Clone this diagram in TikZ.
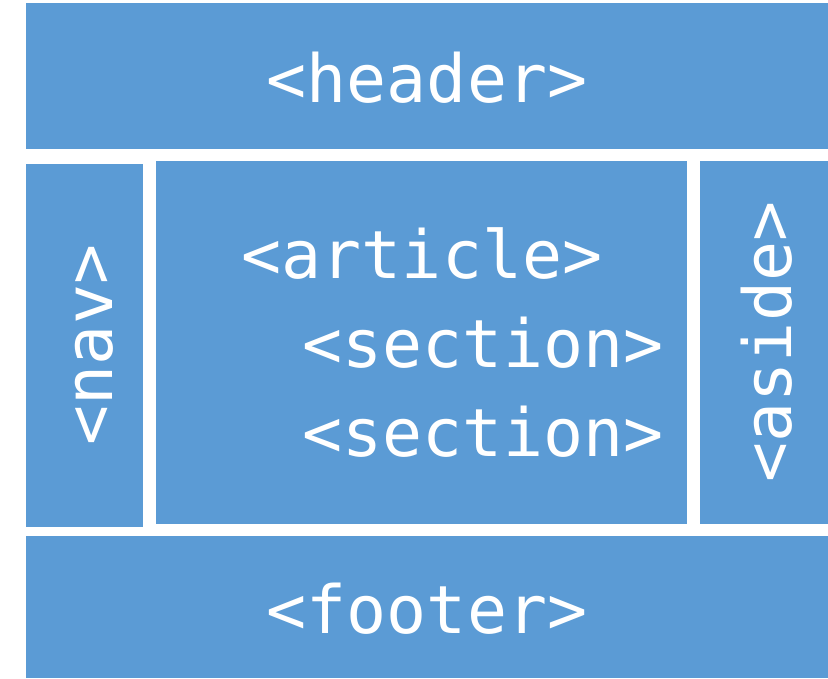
\documentclass[tikz,border=0pt]{standalone}
\usepackage{fontspec}
\setmonofont{DejaVu Sans Mono}
\definecolor{boxblue}{HTML}{5B9BD5}
\begin{document}
\begin{tikzpicture}[x=1pt,y=1pt,
  region/.style={fill=boxblue, draw=none, inner sep=0pt, anchor=south west},
  tag/.style={text=white, inner sep=0pt, anchor=base, font=\ttfamily\fontsize{66.5}{78}\selectfont}]
\useasboundingbox (0,0) rectangle (828,678);
\node[region, minimum width=802pt, minimum height=146pt] (header) at (26,529) {};
\node[region, minimum width=117pt, minimum height=363pt] (nav) at (26,151) {};
\node[region, minimum width=531pt, minimum height=363pt] (article) at (156,154) {};
\node[region, minimum width=128pt, minimum height=363pt] (aside) at (700,154) {};
\node[region, minimum width=802pt, minimum height=142pt] (footer) at (26,0) {};
\node[tag] (headert) at (427,575) {<header>};
\node[tag] (footert) at (427,45) {<footer>};
\node[tag] (articlet) at (422,399) {<article>};
\node[tag] (section1) at (483,310) {<section>};
\node[tag] (section2) at (483,221) {<section>};
\node[tag, rotate=90] (navt) at (112,333) {<nav>};
\node[tag, rotate=90] (asidet) at (791,336) {<aside>};
\end{tikzpicture}
\end{document}
